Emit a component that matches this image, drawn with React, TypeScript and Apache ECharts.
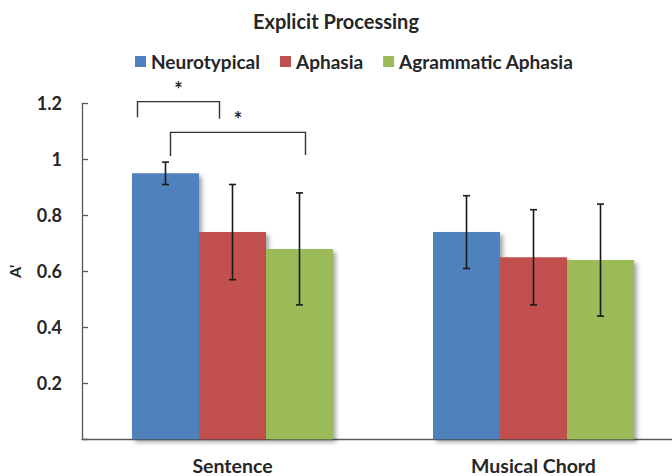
import React, { useEffect, useRef } from "react";
import * as echarts from "echarts";

const categories = ["Sentence", "Musical Chord"];
const seriesNames = ["Neurotypical", "Aphasia", "Agrammatic Aphasia"];
const neurotypical = [0.95, 0.74];
const neurotypicalErr = [0.04, 0.13];
const aphasia = [0.74, 0.65];
const aphasiaErr = [0.17, 0.17];
const agrammatic = [0.68, 0.64];
const agrammaticErr = [0.2, 0.2];
const yTicks = [0, 0.2, 0.4, 0.6, 0.8, 1, 1.2];
// significance brackets: [category index, top level, left foot level, right foot level]
const significance = [
  [0, 1.206, 1.15, 1.145],
  [0, 1.096, 1.012, 1.015],
];

const COLORS = ["#4F81BD", "#C0504D", "#9BBB59"];
const FONT = "Lato, 'Open Sans', sans-serif";
const TEXT = "#262626";
const BAR_W = 67;
// pixel offsets of bracket ends relative to the category centre
const BRACKET_OFFSETS = [
  [-95, -13],
  [-62, 73],
];

export default function App() {
  const ref = useRef<HTMLDivElement>(null);
  useEffect(() => {
    if (!ref.current) return;
    const chart = echarts.init(ref.current, undefined, { renderer: "svg" });
    const values = [neurotypical, aphasia, agrammatic];
    const errs = [neurotypicalErr, aphasiaErr, agrammaticErr];

    const barSeries = seriesNames.map((name, i) => ({
      type: "bar",
      name,
      data: values[i],
      barWidth: BAR_W,
      barGap: "0%",
      itemStyle: {
        color: COLORS[i],
        shadowBlur: 4,
        shadowOffsetX: 3,
        shadowOffsetY: 3,
        shadowColor: "rgba(0,0,0,0.35)",
      },
      z: 2,
    }));

    const errSeries = seriesNames.map((name, i) => ({
      type: "custom",
      name: name + " err",
      z: 5,
      silent: true,
      clip: false,
      itemStyle: { color: "#1a1a1a" },
      data: values[i].map((v, j) => [j, v, errs[i][j]]),
      encode: { x: 0, y: 1 },
      renderItem: (params: any, api: any) => {
        const c = api.value(0);
        const v = api.value(1);
        const e = api.value(2);
        const top = api.coord([c, v + e]);
        const bot = api.coord([c, v - e]);
        const x = top[0] + (i - 1) * BAR_W;
        const style = { stroke: "#1a1a1a", lineWidth: 1.6 };
        return {
          type: "group",
          children: [
            { type: "line", shape: { x1: x, y1: top[1], x2: x, y2: bot[1] }, style },
            { type: "line", shape: { x1: x - 3.5, y1: top[1], x2: x + 3.5, y2: top[1] }, style },
            { type: "line", shape: { x1: x - 3.5, y1: bot[1], x2: x + 3.5, y2: bot[1] }, style },
          ],
        };
      },
    }));

    const bracketSeries = {
      type: "custom",
      name: "significance",
      z: 6,
      silent: true,
      clip: false,
      itemStyle: { color: TEXT },
      data: significance,
      encode: { x: 0, y: 1 },
      renderItem: (params: any, api: any) => {
        const idx = params.dataIndex;
        const c = api.value(0);
        const topP = api.coord([c, api.value(1)]);
        const lP = api.coord([c, api.value(2)]);
        const rP = api.coord([c, api.value(3)]);
        const [ol, or] = BRACKET_OFFSETS[idx];
        const xl = topP[0] + ol;
        const xr = topP[0] + or;
        return {
          type: "group",
          children: [
            {
              type: "polyline",
              shape: {
                points: [
                  [xl, lP[1]],
                  [xl, topP[1]],
                  [xr, topP[1]],
                  [xr, rP[1]],
                ],
              },
              style: { stroke: "#333", lineWidth: 1.4, fill: "none" },
            },
            {
              type: "text",
              x: (xl + xr) / 2,
              y: topP[1] - 3,
              style: {
                text: "*",
                fill: TEXT,
                font: `bold 20px ${FONT}`,
                align: "center",
                verticalAlign: "bottom",
              },
            },
          ],
        };
      },
    };

    chart.setOption({
      animation: false,
      backgroundColor: "#ffffff",
      title: {
        text: "Explicit Processing",
        left: "center",
        top: 6,
        textStyle: { fontFamily: FONT, fontWeight: "bold", fontSize: 20, color: TEXT },
      },
      legend: {
        data: seriesNames,
        top: 47,
        left: 130,
        icon: "rect",
        itemWidth: 11,
        itemHeight: 11,
        itemGap: 20,
        textStyle: { fontFamily: FONT, fontWeight: "bold", fontSize: 19, color: TEXT },
      },
      grid: {
        left: 82,
        right: -12,
        top: 103.3,
        bottom: 36.7,
        containLabel: false,
        outerBoundsMode: "none",
      },
      xAxis: {
        type: "category",
        data: categories,
        axisLine: { lineStyle: { color: "#595959", width: 1.3 } },
        axisTick: { show: false },
        axisLabel: {
          fontFamily: FONT,
          fontWeight: "bold",
          fontSize: 19.5,
          color: TEXT,
          margin: 16,
        },
      },
      yAxis: {
        type: "value",
        min: yTicks[0],
        max: yTicks[yTicks.length - 1],
        interval: 0.2,
        name: "A'",
        nameLocation: "middle",
        nameRotate: 90,
        nameGap: 60,
        nameTextStyle: { fontFamily: FONT, fontWeight: "bold", fontSize: 16, color: TEXT },
        splitLine: { show: false },
        axisLine: { show: true, lineStyle: { color: "#595959", width: 1.3 } },
        axisTick: { show: true, inside: true, length: 6, lineStyle: { color: "#595959", width: 1.3 } },
        axisLabel: {
          fontFamily: FONT,
          fontWeight: "bold",
          fontSize: 18,
          color: TEXT,
          margin: 20,
          formatter: (v: number) => (v === 0 ? "" : String(parseFloat(v.toFixed(1)))),
        },
      },
      series: [...barSeries, ...errSeries, bracketSeries],
    });
    return () => chart.dispose();
  }, []);
  return <div ref={ref} style={{ width: 672, height: 476, position: "absolute", left: 0, top: 0 }} />;
}
